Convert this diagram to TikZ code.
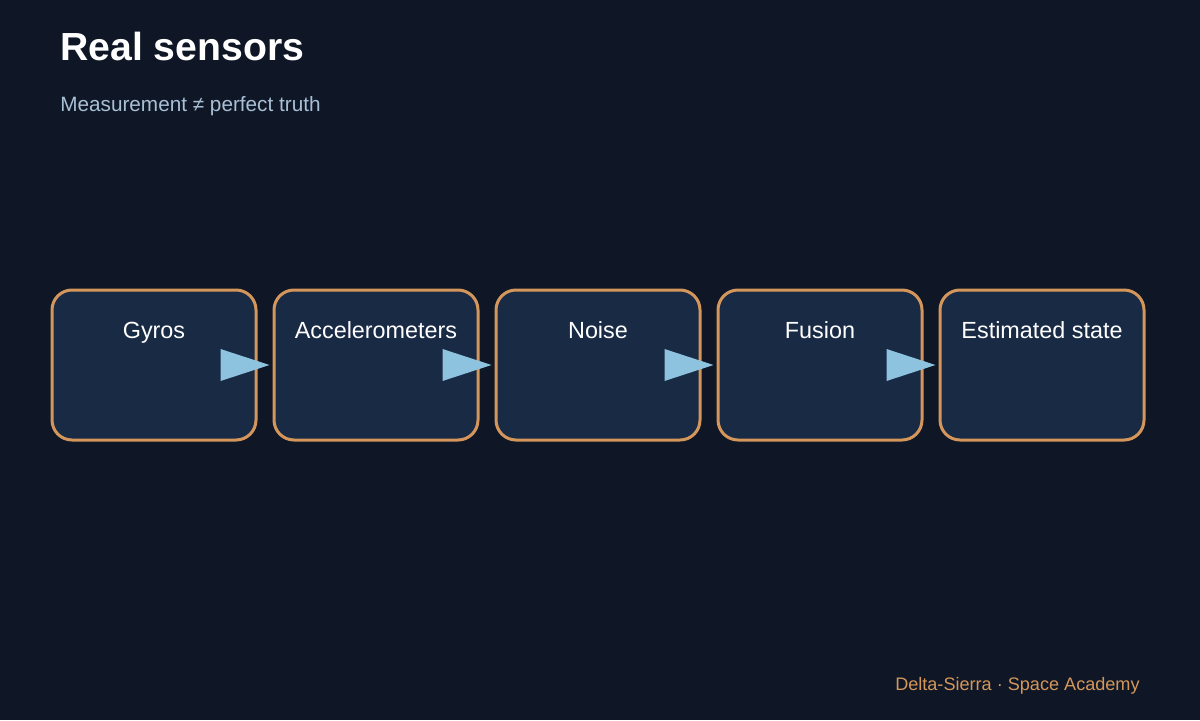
\documentclass[tikz,border=0pt]{standalone}
\usepackage{fontspec}
\setmainfont{Liberation Sans}
\usetikzlibrary{calc}
\definecolor{bg}{HTML}{0F1726}
\definecolor{boxfill}{HTML}{192A45}
\definecolor{boxline}{HTML}{D4965A}
\definecolor{arr}{HTML}{8EC3E0}
\definecolor{sub}{HTML}{A9BFD6}
\begin{document}
\begin{tikzpicture}[x=0.02cm,y=-0.02cm,
  box/.style={draw=boxline,fill=boxfill,line width=3*0.02cm,rounded corners=20*0.02cm,minimum width=204*0.02cm,minimum height=150*0.02cm,inner sep=0pt},
  lbl/.style={text=white,font=\fontsize{13.3}{16}\selectfont,anchor=base},
  tri/.style={fill=arr}]
\fill[bg] (0,0) rectangle (1200,720);
\useasboundingbox (0,0) rectangle (1200,720);
\node[anchor=base west,inner sep=0pt,text=white,font=\fontsize{22.3}{26}\selectfont\bfseries] (title) at (60,60) {Real sensors};
\node[anchor=base west,inner sep=0pt,text=sub,font=\fontsize{11.8}{14}\selectfont] (subtitle) at (60,111) {Measurement ≠ perfect truth};
\foreach \i/\t in {0/Gyros,1/Accelerometers,2/Noise,3/Fusion,4/Estimated state}{
  \node[box] (b\i) at (154+222*\i,365) {};
  \node[lbl] (l\i) at (154+222*\i,338) {\t};
}
\foreach \i/\j in {0/1,1/2,2/3,3/4}{
  \path[tri] ($(b\j.west)+(-3,0)$) -- ++(-49,-16) -- ++(0,32) -- cycle;
}
\node[anchor=base east,inner sep=0pt,text=boxline,font=\fontsize{10.3}{12}\selectfont] (footer) at (1140,690) {Delta-Sierra · Space Academy};
\end{tikzpicture}
\end{document}
